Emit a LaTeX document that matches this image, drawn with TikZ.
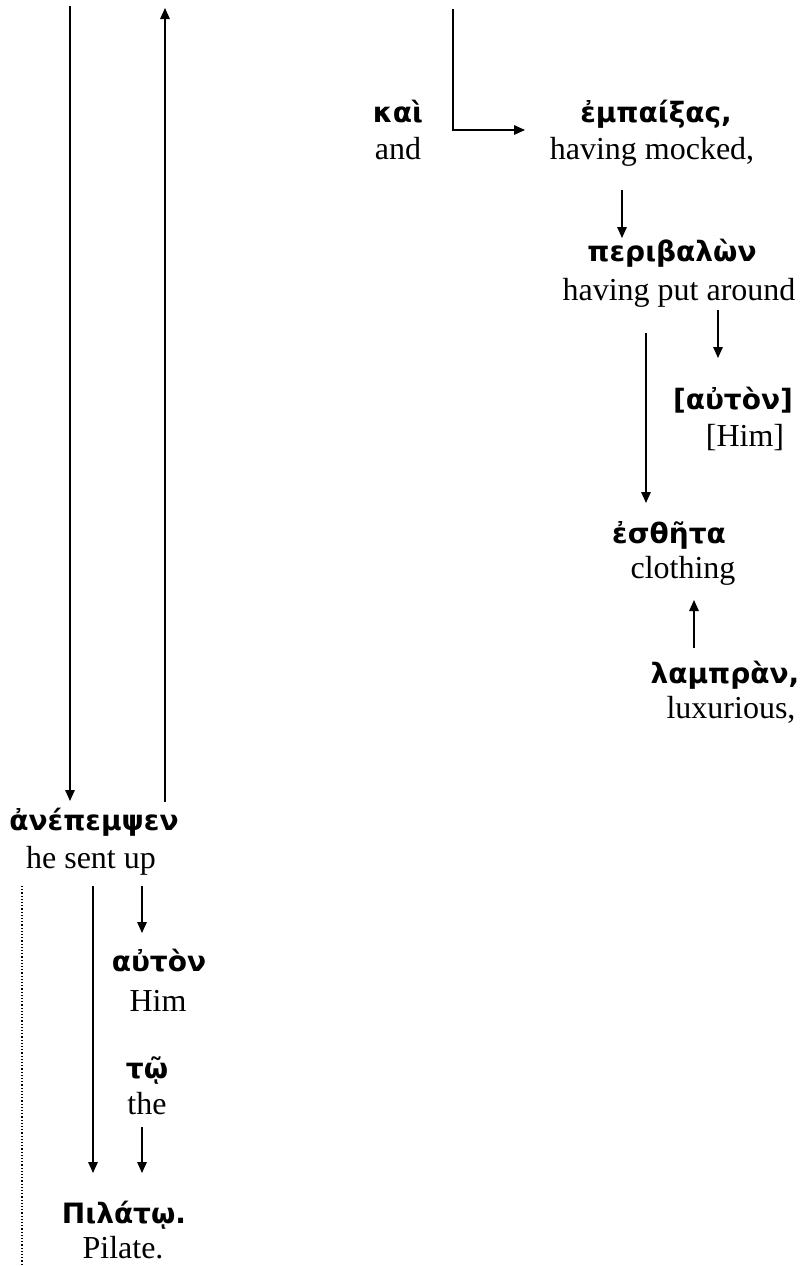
\documentclass[tikz,border=0pt]{standalone}
\usepackage{fontspec}
\setmainfont{Liberation Serif}
\newfontfamily\gkfont{DejaVu Sans}
\usetikzlibrary{arrows.meta}
\tikzset{
  gk/.style={inner sep=0pt, anchor=base, font=\gkfont\bfseries\fontsize{28}{32}\selectfont},
  en/.style={inner sep=0pt, anchor=base, font=\fontsize{32}{38}\selectfont},
  conn/.style={line width=1.5pt},
  arr/.style={conn, -{Triangle[length=11pt,width=9.5pt]}},
  dots/.style={line width=1.2pt, dotted}
}
\begin{document}
\begin{tikzpicture}[x=1pt,y=-1pt]
\useasboundingbox (0,0) rectangle (808,1266);
% words
\node[gk] (kai) at (398,122) {καὶ};
\node[en] (kaiE) at (398,159) {and};
\node[gk] (empaixas) at (656,122) {ἐμπαίξας,};
\node[en] (empaixasE) at (652,159) {having mocked,};
\node[gk] (peribalon) at (672,261) {περιβαλὼν};
\node[en] (peribalonE) at (679,300) {having put around};
\node[gk] (auton1) at (733,409) {[αὐτὸν]};
\node[en] (auton1E) at (745,446) {[Him]};
\node[gk] (esthita) at (669,543) {ἐσθῆτα};
\node[en] (esthitaE) at (683,578) {clothing};
\node[gk] (lampran) at (725,683) {λαμπρὰν,};
\node[en] (lampranE) at (731,718) {luxurious,};
\node[gk] (anepempsen) at (94,830) {ἀνέπεμψεν};
\node[en] (anepempsenE) at (91,868) {he sent up};
\node[gk] (auton2) at (159,971) {αὐτὸν};
\node[en] (auton2E) at (158,1011) {Him};
\node[gk] (to) at (147,1078) {τῷ};
\node[en] (toE) at (147,1114) {the};
\node[gk] (pilato) at (124,1223) {Πιλάτῳ.};
\node[en] (pilatoE) at (123,1258) {Pilate.};
% coordinates
\coordinate (a1s) at (70,6);
\coordinate (a1e) at (70,801);
\coordinate (a2s) at (165,802);
\coordinate (a2e) at (165,8);
\coordinate (k1s) at (453,9);
\coordinate (k1m) at (453,130);
\coordinate (k1e) at (525,130);
\coordinate (m1s) at (622,190);
\coordinate (m1e) at (622,238);
\coordinate (p1s) at (718,310);
\coordinate (p1e) at (718,358);
\coordinate (p2s) at (646,333);
\coordinate (p2e) at (646,503);
\coordinate (l1s) at (694,648);
\coordinate (l1e) at (694,600);
\coordinate (s1s) at (93,886);
\coordinate (s1e) at (93,1173);
\coordinate (s2s) at (142,886);
\coordinate (s2e) at (142,933);
\coordinate (t1s) at (142,1127);
\coordinate (t1e) at (142,1173);
\coordinate (d1s) at (22,886);
\coordinate (d1e) at (22,1266);
% connectors
\draw[arr] (a1s) -- (a1e);
\draw[arr] (a2s) -- (a2e);
\draw[arr] (k1s) -- (k1m) -- (k1e);
\draw[arr] (m1s) -- (m1e);
\draw[arr] (p1s) -- (p1e);
\draw[arr] (p2s) -- (p2e);
\draw[arr] (l1s) -- (l1e);
\draw[arr] (s1s) -- (s1e);
\draw[arr] (s2s) -- (s2e);
\draw[arr] (t1s) -- (t1e);
\draw[dots] (d1s) -- (d1e);
\end{tikzpicture}
\end{document}
